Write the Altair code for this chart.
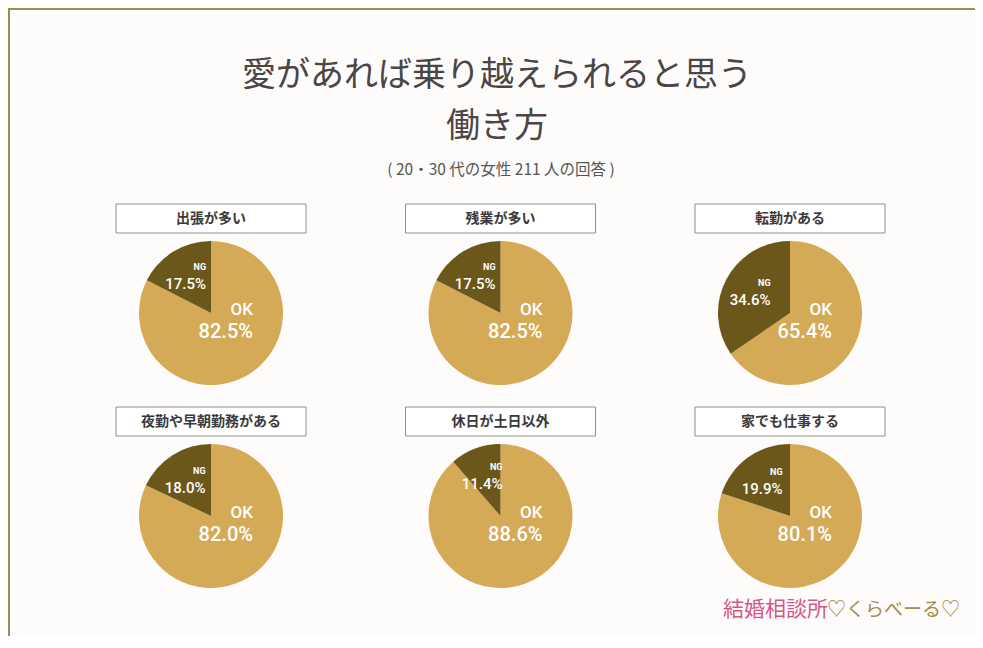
import altair as alt
import pandas as pd

# ---- data ----
items = ["出張が多い", "残業が多い", "転勤がある", "夜勤や早朝勤務がある", "休日が土日以外", "家でも仕事する"]
ok_pct = [82.5, 82.5, 65.4, 82.0, 88.6, 80.1]
ng_pct = [17.5, 17.5, 34.6, 18.0, 11.4, 19.9]
grid_col = [0, 1, 2, 0, 1, 2]
grid_row = [0, 0, 0, 1, 1, 1]
answers = ["OK", "NG"]
title_lines = ["愛があれば乗り越えられると思う", "働き方"]
subtitle = "( 20・30 代の女性 211 人の回答 )"
brand_a = "結婚相談所"
brand_b = "♡くらべーる♡"

OK_COLOR = "#d5aa56"
NG_COLOR = "#6b5719"
W, H = 967, 628

records = []
for i, name in enumerate(items):
    for k, (ans, val) in enumerate(zip(answers, [ok_pct[i], ng_pct[i]])):
        records.append(dict(item=name, answer=ans, value=val, order=k,
                            col=grid_col[i], row=grid_row[i], label=f"{val:.1f}%"))
df = pd.DataFrame(records)
box_df = pd.DataFrame(dict(item=items, col=grid_col, row=grid_row))

xs = alt.Scale(domain=[0, 2], range=[203, 782], nice=False, zero=False)
ys = alt.Scale(domain=[0, 1], range=[305, 508], nice=False, zero=False)
ts = alt.Scale(domain=[0, 1], range=[0, 6.283185307179586])

X = alt.X("col:Q", scale=xs, axis=None)
Y = alt.Y("row:Q", scale=ys, axis=None)

base = alt.Chart(df).transform_stack(
    stack="value", as_=["s0", "s1"], groupby=["item"],
    sort=[alt.SortField("order", order="ascending")], offset="normalize"
).transform_calculate(mid="(datum.s0 + datum.s1) / 2")

arcs = base.mark_arc(radius=72).encode(
    x=X, y=Y,
    theta=alt.Theta("s0:Q", scale=ts),
    theta2="s1:Q",
    color=alt.Color("answer:N", scale=alt.Scale(domain=answers, range=[OK_COLOR, NG_COLOR]), legend=None),
)

ng = base.transform_filter("datum.answer == 'NG'")
ng_name = ng.mark_text(font="Roboto", fontSize=9, fontWeight="bold", color="white",
                       align="right", baseline="middle", dx=16, dy=-11.5).encode(
    x=X, y=Y, theta=alt.Theta("mid:Q", scale=ts), radius=alt.value(40), text="answer:N")
ng_val = ng.mark_text(font="Roboto", fontSize=15, fontWeight=500, color="white",
                      align="right", baseline="middle", dx=16, dy=5.5).encode(
    x=X, y=Y, theta=alt.Theta("mid:Q", scale=ts), radius=alt.value(40), text="label:N")

ok = base.transform_filter("datum.answer == 'OK'")
ok_name = ok.mark_text(font="Roboto", fontSize=17, fontWeight=500, color="white",
                       align="right", baseline="middle", dx=42, dy=-3).encode(
    x=X, y=Y, text="answer:N")
ok_val = ok.mark_text(font="Roboto", fontSize=20, fontWeight=500, color="white",
                      align="right", baseline="middle", dx=42, dy=19).encode(
    x=X, y=Y, text="label:N")

boxes = alt.Chart(box_df).mark_rect(
    fill="#ffffff", stroke="#8f8f8f", strokeWidth=1,
    xOffset=-95, x2Offset=95, yOffset=-109, y2Offset=-80
).encode(x=X, x2="col:Q", y=Y, y2="row:Q")
box_text = alt.Chart(box_df).mark_text(
    font="Noto Sans CJK JP", fontSize=14, fontWeight="bold", color="#3a3a3a",
    baseline="middle", dy=-94.5
).encode(x=X, y=Y, text="item:N")

one = pd.DataFrame({"t": [title_lines[0]]})
two = pd.DataFrame({"t": [title_lines[1]]})
sub = pd.DataFrame({"t": [subtitle]})
ba = pd.DataFrame({"t": [brand_a]})
bb = pd.DataFrame({"t": [brand_b]})

title1 = alt.Chart(one).mark_text(font="Noto Sans CJK JP", fontSize=34, fontWeight=400,
                                  color="#4b4546", baseline="middle").encode(
    text="t:N", x=alt.value(489), y=alt.value(68))
title2 = alt.Chart(two).mark_text(font="Noto Sans CJK JP", fontSize=34, fontWeight=400,
                                  color="#4b4546", baseline="middle").encode(
    text="t:N", x=alt.value(489), y=alt.value(119))
subt = alt.Chart(sub).mark_text(font="Noto Sans CJK JP", fontSize=15.5, color="#555555",
                                baseline="middle").encode(
    text="t:N", x=alt.value(493), y=alt.value(162))
brand1 = alt.Chart(ba).mark_text(font="Noto Sans CJK JP", fontSize=21, color="#d4578a",
                                 align="left", baseline="middle").encode(
    text="t:N", x=alt.value(715), y=alt.value(602))
brand2 = alt.Chart(bb).mark_text(font="Noto Sans CJK JP", fontSize=19, color="#a48c4c",
                                 align="left", baseline="middle").encode(
    text="t:N", x=alt.value(819), y=alt.value(602))

frame_df = pd.DataFrame({"k": [0]})
left_rule = alt.Chart(frame_df).mark_rule(color="#9d8b57", strokeWidth=2).encode(
    x=alt.value(1), y=alt.value(0), y2=alt.value(H))
top_rule = alt.Chart(frame_df).mark_rule(color="#9d8b57", strokeWidth=2).encode(
    y=alt.value(1), x=alt.value(0), x2=alt.value(W))

chart = alt.layer(
    left_rule, top_rule, title1, title2, subt, boxes, box_text,
    arcs, ng_name, ng_val, ok_name, ok_val, brand1, brand2
).properties(
    width=W, height=H, padding=0,
    autosize=alt.AutoSizeParams(type="none"),
    background="#fdfcfa"
).configure_view(stroke=None)

chart.save("out.html", embed_options={"renderer": "svg", "actions": False})
